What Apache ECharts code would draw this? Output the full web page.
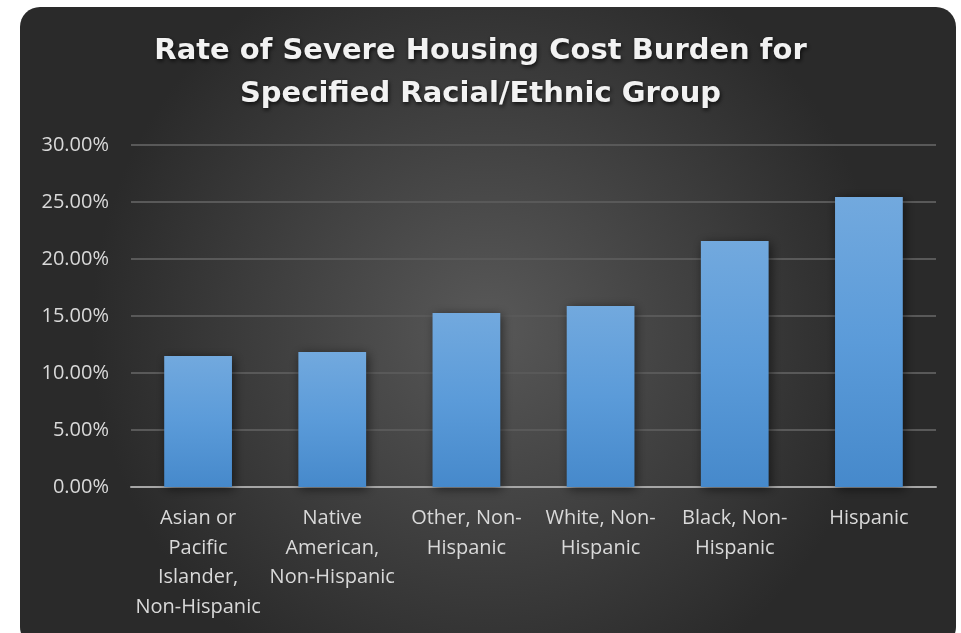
<!DOCTYPE html>
<html>
<head>
<meta charset="utf-8">
<style>
  html, body { margin: 0; padding: 0; background: #ffffff; }
  #chart { width: 961px; height: 633px; }
</style>
<script src="https://cdn.jsdelivr.net/npm/echarts@6/dist/echarts.min.js"></script>
</head>
<body>
<div id="chart"></div>
<script>
// Severe housing cost burden rate by racial/ethnic group
const titleLines = ['Rate of Severe Housing Cost Burden for', 'Specified Racial/Ethnic Group'];
const categories = [
  'Asian or\nPacific\nIslander,\nNon-Hispanic',
  'Native\nAmerican,\nNon-Hispanic',
  'Other, Non-\nHispanic',
  'White, Non-\nHispanic',
  'Black, Non-\nHispanic',
  'Hispanic'
];
const rates = [11.49, 11.84, 15.26, 15.88, 21.58, 25.44];
const yTicks = { min: 0, max: 30, interval: 5 };

const labelFont = '"Open Sans", "Liberation Sans", sans-serif';
const titleFont = '"DejaVu Sans", "Open Sans", sans-serif';

const chart = echarts.init(document.getElementById('chart'), null, { renderer: 'canvas' });

chart.setOption({
  backgroundColor: '#ffffff',
  animation: false,
  graphic: [
    {
      type: 'rect',
      z: -10,
      silent: true,
      shape: { x: 20, y: 7, width: 936, height: 640, r: 20 },
      style: {
        fill: {
          type: 'radial', x: 0.5, y: 0.5, r: 0.62,
          colorStops: [
            { offset: 0, color: '#585858' },
            { offset: 1, color: '#2a2a2a' }
          ]
        }
      }
    }
  ],
  title: {
    text: titleLines.join('\n'),
    left: 'center',
    top: 25,
    textStyle: {
      color: '#f2f2f2',
      fontFamily: titleFont,
      fontWeight: 'bold',
      fontSize: 29,
      lineHeight: 43,
      textShadowColor: 'rgba(0,0,0,0.75)',
      textShadowBlur: 4,
      textShadowOffsetX: 1,
      textShadowOffsetY: 2
    }
  },
  grid: { left: 131, right: 25, top: 145, bottom: 146, containLabel: false },
  xAxis: {
    type: 'category',
    data: categories,
    axisTick: { show: false },
    axisLine: { lineStyle: { color: '#a6a6a6', width: 2 } },
    axisLabel: {
      color: '#d9d9d9',
      fontFamily: labelFont,
      fontSize: 20,
      lineHeight: 29.5,
      margin: 17,
      interval: 0
    }
  },
  yAxis: {
    type: 'value',
    min: yTicks.min,
    max: yTicks.max,
    interval: yTicks.interval,
    axisLine: { show: false },
    axisTick: { show: false },
    splitLine: { lineStyle: { color: '#595959', width: 2 } },
    axisLabel: {
      color: '#d9d9d9',
      fontFamily: labelFont,
      fontSize: 20,
      margin: 22,
      formatter: v => v.toFixed(2) + '%'
    }
  },
  series: [
    {
      type: 'bar',
      data: rates,
      barWidth: '50.5%',
      itemStyle: {
        color: {
          type: 'linear', x: 0, y: 0, x2: 0, y2: 1,
          colorStops: [
            { offset: 0, color: '#72a9de' },
            { offset: 0.5, color: '#5b9bd9' },
            { offset: 1, color: '#4689cb' }
          ]
        },
        shadowColor: 'rgba(0,0,0,0.55)',
        shadowBlur: 10,
        shadowOffsetX: 2,
        shadowOffsetY: 2
      }
    }
  ]
});
</script>
</body>
</html>
